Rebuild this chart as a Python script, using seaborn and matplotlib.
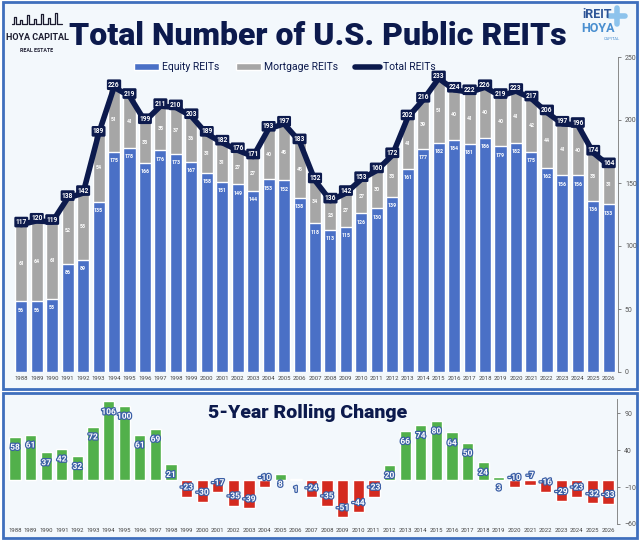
import numpy as np
import pandas as pd
import seaborn as sns
import matplotlib.pyplot as plt
import matplotlib.patheffects as pe
from matplotlib.patches import Rectangle
from matplotlib.lines import Line2D

# Data
years = list(range(1988, 2027))
total_reits = [117, 120, 119, 138, 142, 189, 226, 219, 199, 211, 210, 203, 189, 182, 176,
               171, 193, 197, 183, 152, 136, 142, 153, 160, 172, 202, 216, 233, 224, 222,
               226, 219, 223, 217, 206, 197, 196, 174, 164]
equity_reits = [56, 56, 58, 86, 89, 135, 175, 178, 166, 176, 173, 167, 158, 151, 149,
                144, 153, 152, 138, 118, 113, 115, 126, 130, 139, 161, 177, 182, 184, 181,
                186, 179, 182, 175, 162, 156, 156, 136, 133]
rolling_change = [58, 61, 37, 42, 32, 72, 106, 100, 61, 69, 21, -23, -30, -17, -35,
                  -39, -10, 8, 1, -24, -35, -51, -44, -23, 20, 66, 74, 80, 64, 50,
                  24, 3, -10, -7, -16, -29, -23, -32, -33]

df = pd.DataFrame({"year": years, "total": total_reits, "equity": equity_reits})
df["mortgage"] = df["total"] - df["equity"]
roll = pd.DataFrame({"year": years, "change": rolling_change})
roll["sign"] = np.where(roll["change"] >= 0, "up", "down")

NAVY = "#0c1a4d"
BLUE = "#4a70c6"
GREY = "#a6a6a6"
GREEN = "#52b04b"
RED = "#d42a1f"
BG = "#f3f8fc"
FRAME = "#3f6fbd"

sns.set_theme(style="white")
plt.rcParams["font.family"] = ["Roboto", "DejaVu Sans"]

fig = plt.figure(figsize=(6.4, 5.42), dpi=100)

# panel frames (behind the axes)
fig.patches.append(Rectangle((3 / 640, 1 - 389 / 542), 634 / 640, 387 / 542, transform=fig.transFigure,
                             fc=BG, ec=FRAME, lw=2, zorder=-10))
fig.patches.append(Rectangle((3 / 640, 1 - 538 / 542), 634 / 640, 145 / 542, transform=fig.transFigure,
                             fc=BG, ec=FRAME, lw=2, zorder=-10))

# ---- top chart ----
ax = fig.add_axes([12 / 640, 1 - 372 / 542, 606 / 640, 315 / 542])
ax.set_facecolor("none")
sns.barplot(data=df, x="year", y="total", native_scale=True, color=GREY, saturation=1,
            width=0.78, errorbar=None, ax=ax)
sns.barplot(data=df, x="year", y="equity", native_scale=True, color=BLUE, saturation=1,
            width=0.78, errorbar=None, ax=ax)
sns.lineplot(data=df, x="year", y="total", color=NAVY, linewidth=4, solid_joinstyle="round",
             ax=ax)

for _, r in df.iterrows():
    ax.text(r.year, r.total + 2, f"{r.total}", ha="center", va="center", fontsize=4.8,
            color="white", fontweight="bold",
            bbox=dict(boxstyle="round,pad=0.2", fc=NAVY, ec="none"), zorder=5)
    ax.text(r.year, r.equity - 7, f"{r.equity}", ha="center", va="center", fontsize=3.8,
            color="white", fontweight="bold", zorder=4)
    ax.text(r.year, r.equity + r.mortgage / 2, f"{r.mortgage}", ha="center", va="center",
            fontsize=3.8, color="white", fontweight="bold", zorder=4)

ax.set_xlim(1987.4, 2026.6)
ax.set_ylim(0, 250)
ax.set_xticks(years)
ax.set_xticklabels([str(y) for y in years], fontsize=4.3, color="#444444")
ax.set_yticks([0, 50, 100, 150, 200, 250])
ax.yaxis.tick_right()
ax.tick_params(axis="y", labelsize=5, colors="#555555", length=2, width=0.5, pad=3)
ax.tick_params(axis="x", length=0, pad=3)
ax.set_xlabel("")
ax.set_ylabel("")
for s in ["top", "left", "bottom"]:
    ax.spines[s].set_visible(False)
ax.spines["right"].set_color("#777777")
ax.spines["right"].set_linewidth(0.6)

handles = [Rectangle((0, 0), 1, 1, fc=BLUE), Rectangle((0, 0), 1, 1, fc=GREY),
           Line2D([0], [0], color=NAVY, lw=4)]
ax.legend(handles, ["Equity REITs", "Mortgage REITs", "Total REITs"], loc="center",
          bbox_to_anchor=(0.445, 1 - 67 / 542), bbox_transform=fig.transFigure, ncol=3,
          frameon=False, fontsize=7.5, handlelength=2.4, handleheight=0.6,
          columnspacing=1.6, handletextpad=0.3, labelcolor=NAVY)

# ---- bottom chart ----
ax2 = fig.add_axes([5.6 / 640, 1 - 524 / 542, 611.8 / 640, 125.5 / 542])
ax2.set_facecolor("none")
sns.barplot(data=roll, x="year", y="change", hue="sign", palette={"up": GREEN, "down": RED},
            native_scale=True, dodge=False, saturation=1, width=0.72, errorbar=None,
            legend=False, ax=ax2)
for _, r in roll.iterrows():
    ypos = r.change - 14 if r.change >= 0 else r.change + 13
    ax2.text(r.year, ypos, f"{r.change}", ha="center", va="center", fontsize=6,
             color="white", fontweight="bold", zorder=5,
             path_effects=[pe.withStroke(linewidth=1.8, foreground="#3b5fa6")])

ax2.set_xlim(1987.4, 2026.6)
ax2.set_ylim(-60, 110)
ax2.set_xticks(years)
ax2.set_xticklabels([str(y) for y in years], fontsize=4.3, color="#444444")
ax2.set_yticks([-60, -10, 40, 90])
ax2.yaxis.tick_right()
ax2.tick_params(axis="y", labelsize=5, colors="#555555", length=2, width=0.5, pad=3)
ax2.tick_params(axis="x", length=0, pad=3)
ax2.set_xlabel("")
ax2.set_ylabel("")
for s in ["top", "left", "bottom"]:
    ax2.spines[s].set_visible(False)
ax2.spines["right"].set_color("#777777")
ax2.spines["right"].set_linewidth(0.6)

# ---- titles and logos ----
fig.text(318 / 640, 1 - 36 / 542, "Total Number of U.S. Public REITs", ha="center", va="center",
         fontsize=23, fontweight="heavy", color=NAVY)
fig.text(308 / 640, 1 - 413 / 542, "5-Year Rolling Change", ha="center", va="center",
         fontsize=14, fontweight="heavy", color=NAVY)

# left logo: a small skyline over the name
sky_x = np.array([12, 14, 14, 16, 16, 20, 20, 22, 22, 27, 27, 29, 29, 34, 34, 36, 36, 41, 41, 43,
                  43, 48, 48, 50, 50, 55, 55, 57, 57, 62]) / 640
sky_y = 1 - np.array([24, 24, 17, 17, 24, 24, 20, 20, 24, 24, 15, 15, 24, 24, 19, 19, 24, 24, 14,
                      14, 24, 24, 18, 18, 24, 24, 13, 13, 24, 24]) / 542
fig.add_artist(Line2D(sky_x, sky_y, color="#1b1b2f", lw=0.9, transform=fig.transFigure))
fig.text(37 / 640, 1 - 37 / 542, "HOYA CAPITAL", ha="center", va="center", fontsize=6.5,
         fontweight="bold", color="#1b1b2f")
fig.text(37 / 640, 1 - 51 / 542, "REAL ESTATE", ha="center", va="center", fontsize=3.8,
         fontweight="bold", color="#1b1b2f")

# right logo
fig.add_artist(Line2D([617 / 640, 617 / 640], [1 - 8 / 542, 1 - 24 / 542], color="#8dc3ec",
                      lw=4, transform=fig.transFigure))
fig.add_artist(Line2D([609 / 640, 625 / 640], [1 - 16 / 542, 1 - 16 / 542], color="#8dc3ec",
                      lw=4, transform=fig.transFigure))
fig.text(597 / 640, 1 - 15 / 542, "iREIT", ha="center", va="center", fontsize=9,
         fontweight="bold", color="#2d5496")
fig.text(598 / 640, 1 - 28 / 542, "HOYA", ha="center", va="center", fontsize=9,
         fontweight="bold", color="#4a8fd0")
fig.text(612 / 640, 1 - 39 / 542, "CAPITAL", ha="center", va="center", fontsize=3,
         color="#4a8fd0")

fig.savefig("out.png", dpi=100)
